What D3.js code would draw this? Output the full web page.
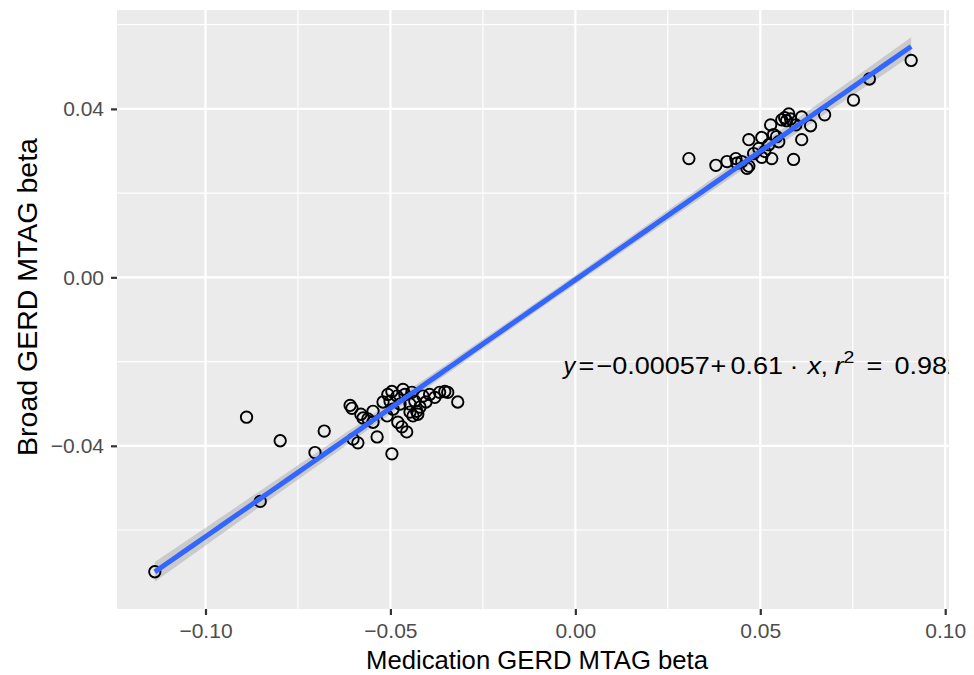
<!DOCTYPE html>
<html>
<head>
<meta charset="utf-8">
<script src="https://cdn.jsdelivr.net/npm/d3@7"></script>
<style>
  html, body { margin: 0; padding: 0; background: #ffffff; }
  svg { display: block; font-family: "Liberation Sans", Arial, Helvetica, sans-serif; }
</style>
</head>
<body>
<svg id="chart" width="974" height="675"></svg>
<script>
// ---- data ----
const medicationBeta = [
  0.0908, 0.0795, 0.0752, 0.0674, 0.0636, 0.0612, 0.0612, 0.0577, 0.0566, 0.0571,
  0.0582, 0.0596, 0.0558, 0.0528, 0.0536, 0.0504, 0.0469, 0.0544, 0.0550, 0.0496,
  0.0531, 0.0590, 0.0504, 0.0307, 0.0380, 0.0410, 0.0434, 0.0437, 0.0469, 0.0464,
  0.0482, 0.0512, 0.0450, 0.0523,
  -0.1137, -0.0852, -0.0889, -0.0798, -0.0704, -0.0679, -0.0609, -0.0604, -0.0580, -0.0574,
  -0.0601, -0.0588, -0.0536, -0.0547, -0.0547, -0.0509, -0.0507, -0.0496, -0.0501, -0.0482,
  -0.0466, -0.0461, -0.0442, -0.0480, -0.0469, -0.0456, -0.0496, -0.0447, -0.0434, -0.0429,
  -0.0420, -0.0426, -0.0412, -0.0394, -0.0367, -0.0353, -0.0345, -0.0318, -0.0493, -0.0520,
  -0.0447, -0.0439, -0.0561, -0.0474, -0.0404, -0.0380
];
const broadBeta = [
  0.0515, 0.0471, 0.0421, 0.0386, 0.0360, 0.0381, 0.0327, 0.0388, 0.0379, 0.0372,
  0.0376, 0.0362, 0.0374, 0.0362, 0.0339, 0.0332, 0.0327, 0.0334, 0.0322, 0.0306,
  0.0282, 0.0280, 0.0285, 0.0282, 0.0266, 0.0275, 0.0282, 0.0271, 0.0264, 0.0259,
  0.0294, 0.0299, 0.0275, 0.0315,
  -0.0699, -0.0532, -0.0332, -0.0388, -0.0416, -0.0365, -0.0304, -0.0311, -0.0325, -0.0334,
  -0.0384, -0.0393, -0.0379, -0.0318, -0.0344, -0.0329, -0.0278, -0.0271, -0.0294, -0.0282,
  -0.0266, -0.0278, -0.0273, -0.0344, -0.0355, -0.0367, -0.0419, -0.0301, -0.0294, -0.0318,
  -0.0308, -0.0325, -0.0282, -0.0278, -0.0273, -0.0271, -0.0273, -0.0296, -0.0313, -0.0296,
  -0.0320, -0.0329, -0.0336, -0.0301, -0.0296, -0.0285
];
const fitCoefficients = [-0.00057, 0.61];   // intercept, slope
const fitR2 = ["0.982"];
const xTicks = [-0.10, -0.05, 0.00, 0.05, 0.10];
const xMinorTicks = [-0.075, -0.025, 0.025, 0.075];
const yTicks = [-0.04, 0.00, 0.04];
const yMinorTicks = [-0.06, -0.02, 0.02, 0.06];
const xTitle = "Medication GERD MTAG beta";
const yTitle = "Broad GERD MTAG beta";
const labelPosition = [-0.0035, -0.0209];

// ---- layout ----
const panel = { left: 117, right: 949, top: 10, bottom: 609 };
const svg = d3.select("#chart");

const points = medicationBeta.map((x, i) => ({ x, y: broadBeta[i] }));
const n = points.length;
const [b0, b1] = fitCoefficients;
const meanX = d3.mean(points, d => d.x);
const sxx = d3.sum(points, d => (d.x - meanX) ** 2);
const rss = d3.sum(points, d => (d.y - (b0 + b1 * d.x)) ** 2);
const sigma = Math.sqrt(rss / (n - 2));
const tcrit = 1.99;
const [xMin, xMax] = d3.extent(points, d => d.x);
const band = d3.range(0, 81).map(i => {
  const x = xMin + (xMax - xMin) * i / 80;
  const fit = b0 + b1 * x;
  const se = sigma * Math.sqrt(1 / n + (x - meanX) ** 2 / sxx);
  return { x, fit, lo: fit - tcrit * se, hi: fit + tcrit * se };
});

const xr = xMax - xMin;
const yLo = Math.min(d3.min(points, d => d.y), d3.min(band, d => d.lo));
const yHi = Math.max(d3.max(points, d => d.y), d3.max(band, d => d.hi));
const yr = yHi - yLo;

const x = d3.scaleLinear().domain([xMin - 0.05 * xr, xMax + 0.05 * xr]).range([panel.left, panel.right]);
const y = d3.scaleLinear().domain([yLo - 0.05 * yr, yHi + 0.05 * yr]).range([panel.bottom, panel.top]);

// panel background
svg.append("rect")
  .attr("x", panel.left).attr("y", panel.top)
  .attr("width", panel.right - panel.left).attr("height", panel.bottom - panel.top)
  .attr("fill", "#EBEBEB");

svg.append("clipPath").attr("id", "panelClip")
  .append("rect")
  .attr("x", panel.left).attr("y", panel.top)
  .attr("width", panel.right - panel.left).attr("height", panel.bottom - panel.top);

const grid = svg.append("g").attr("clip-path", "url(#panelClip)");
grid.selectAll("line.xminor").data(xMinorTicks).join("line")
  .attr("x1", d => x(d)).attr("x2", d => x(d))
  .attr("y1", panel.top).attr("y2", panel.bottom)
  .attr("stroke", "#ffffff").attr("stroke-width", 1.1);
grid.selectAll("line.yminor").data(yMinorTicks).join("line")
  .attr("y1", d => y(d)).attr("y2", d => y(d))
  .attr("x1", panel.left).attr("x2", panel.right)
  .attr("stroke", "#ffffff").attr("stroke-width", 1.1);
grid.selectAll("line.xmajor").data(xTicks).join("line")
  .attr("x1", d => x(d)).attr("x2", d => x(d))
  .attr("y1", panel.top).attr("y2", panel.bottom)
  .attr("stroke", "#ffffff").attr("stroke-width", 2.2);
grid.selectAll("line.ymajor").data(yTicks).join("line")
  .attr("y1", d => y(d)).attr("y2", d => y(d))
  .attr("x1", panel.left).attr("x2", panel.right)
  .attr("stroke", "#ffffff").attr("stroke-width", 2.2);

// axes
const fmt = d => (d < 0 ? "\u2212" : "") + Math.abs(d).toFixed(2);
const xAxis = svg.append("g").attr("transform", `translate(0,${panel.bottom})`)
  .call(d3.axisBottom(x).tickValues(xTicks).tickFormat(fmt).tickSize(6).tickPadding(3));
const yAxis = svg.append("g").attr("transform", `translate(${panel.left},0)`)
  .call(d3.axisLeft(y).tickValues(yTicks).tickFormat(fmt).tickSize(6).tickPadding(5));
[xAxis, yAxis].forEach(a => {
  a.select(".domain").remove();
  a.selectAll(".tick line").attr("stroke", "#333333").attr("stroke-width", 2.2);
  a.selectAll(".tick text").attr("fill", "#4D4D4D").attr("font-size", 21)
    .attr("font-family", "'Liberation Sans', Arial, sans-serif");
});
xAxis.selectAll(".tick text").attr("dy", "0.71em").attr("y", 14);
yAxis.selectAll(".tick text").attr("x", -13);

// ribbon + line + points
const plot = svg.append("g").attr("clip-path", "url(#panelClip)");
plot.append("path").datum(band)
  .attr("d", d3.area().x(d => x(d.x)).y0(d => y(d.lo)).y1(d => y(d.hi)))
  .attr("fill", "#999999").attr("fill-opacity", 0.4);

plot.selectAll("circle").data(points).join("circle")
  .attr("cx", d => x(d.x)).attr("cy", d => y(d.y)).attr("r", 5.7)
  .attr("fill", "none").attr("stroke", "#000000").attr("stroke-width", 1.9);

plot.append("path").datum(band)
  .attr("d", d3.line().x(d => x(d.x)).y(d => y(d.fit)))
  .attr("fill", "none").attr("stroke", "#3366FF").attr("stroke-width", 5);

// equation label
const lx = x(labelPosition[0]);
const ly = y(labelPosition[1]) + 9;
const pieces = [
  { t: "y", dx: 1, it: true, sx: 1.0 },
  { t: "=", dx: 16 },
  { t: "\u22120.00057", dx: 34 },
  { t: "+", dx: 148 },
  { t: "0.61", dx: 168 },
  { t: "\u00B7", dx: 227 },
  { t: "x", dx: 245, it: true },
  { t: ",", dx: 258 },
  { t: "r", dx: 272, it: true },
  { t: "2", dx: 281, sup: true },
  { t: "=", dx: 304 },
  { t: fitR2[0], dx: 332 }
];
const lab = plot.append("g");
lab.selectAll("text").data(pieces).join("text")
  .attr("transform", d => `translate(${lx + d.dx},${d.sup ? ly - 11 : ly}) scale(${d.sx || 1.15},1)`)
  .attr("font-size", d => d.sup ? 17 : 23.5)
  .attr("font-style", d => d.it ? "italic" : "normal")
  .attr("fill", "#000000")
  .text(d => d.t);

// axis titles
svg.append("text")
  .attr("x", (panel.left + panel.right) / 2 + 4).attr("y", 669)
  .attr("text-anchor", "middle").attr("font-size", 26.5).attr("fill", "#000000")
  .attr("textLength", 342).attr("lengthAdjust", "spacingAndGlyphs")
  .text(xTitle);
svg.append("text")
  .attr("transform", `translate(37,297) rotate(-90)`)
  .attr("text-anchor", "middle").attr("font-size", 28.5).attr("fill", "#000000")
  .text(yTitle);
</script>
</body>
</html>
